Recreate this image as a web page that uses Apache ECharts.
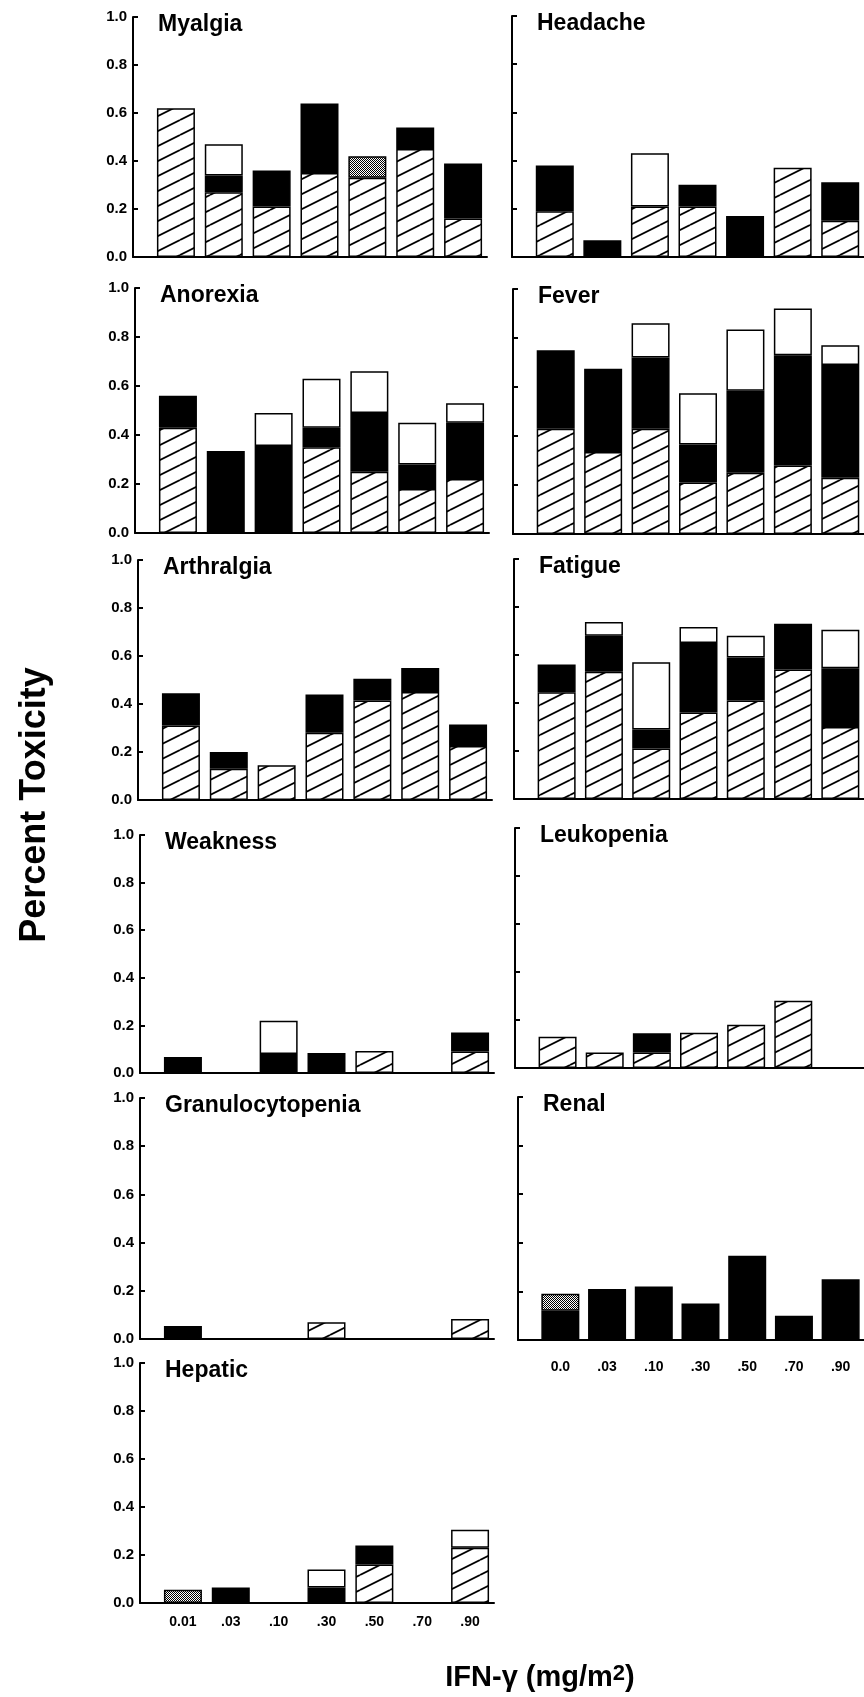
<!DOCTYPE html>
<html><head><meta charset="utf-8">
<script src="https://cdn.jsdelivr.net/npm/echarts@6/dist/echarts.min.js"></script>
<style>html,body{margin:0;padding:0;background:#fff}#c{width:864px;height:1697px}</style>
</head><body><div id="c"></div>
<script>
// ---- data (fraction of patients), each panel: [hatched, black, open, stippled] ----
const doses = ['0.0', '.03', '.10', '.30', '.50', '.70', '.90'];
const dosesHepatic = ['0.01', '.03', '.10', '.30', '.50', '.70', '.90'];
const grades = ['hatched', 'black', 'open', 'stippled'];

const myalgia = [
  [0.62, 0.27, 0.21, 0.35, 0.33, 0.45, 0.16],
  [0, 0.07, 0.15, 0.29, 0, 0.09, 0.23],
  [0, 0.13, 0, 0, 0, 0, 0],
  [0, 0, 0, 0, 0.09, 0, 0]
];
const headache = [
  [0.19, 0, 0.21, 0.21, 0, 0.37, 0.15],
  [0.19, 0.07, 0, 0.09, 0.17, 0, 0.16],
  [0, 0, 0.22, 0, 0, 0, 0],
  [0, 0, 0, 0, 0, 0, 0]
];
const anorexia = [
  [0.43, 0, 0, 0.35, 0.25, 0.18, 0.22],
  [0.13, 0.335, 0.355, 0.08, 0.24, 0.10, 0.23],
  [0, 0, 0.135, 0.20, 0.17, 0.17, 0.08],
  [0, 0, 0, 0, 0, 0, 0]
];
const fever = [
  [0.43, 0.335, 0.43, 0.21, 0.25, 0.28, 0.23],
  [0.32, 0.34, 0.29, 0.155, 0.335, 0.45, 0.46],
  [0, 0, 0.14, 0.21, 0.25, 0.19, 0.08],
  [0, 0, 0, 0, 0, 0, 0]
];
const arthralgia = [
  [0.31, 0.13, 0.145, 0.28, 0.415, 0.45, 0.225],
  [0.135, 0.07, 0, 0.16, 0.09, 0.10, 0.09],
  [0, 0, 0, 0, 0, 0, 0],
  [0, 0, 0, 0, 0, 0, 0]
];
const fatigue = [
  [0.445, 0.53, 0.21, 0.36, 0.41, 0.54, 0.30],
  [0.115, 0.15, 0.08, 0.29, 0.18, 0.19, 0.245],
  [0, 0.057, 0.28, 0.067, 0.09, 0, 0.16],
  [0, 0, 0, 0, 0, 0, 0]
];
const weakness = [
  [0, 0, 0, 0, 0.092, 0, 0.09],
  [0.067, 0, 0.08, 0.084, 0, 0, 0.08],
  [0, 0, 0.14, 0, 0, 0, 0],
  [0, 0, 0, 0, 0, 0, 0]
];
const leukopenia = [
  [0.13, 0.065, 0.065, 0.147, 0.18, 0.28, 0],
  [0, 0, 0.08, 0, 0, 0, 0],
  [0, 0, 0, 0, 0, 0, 0],
  [0, 0, 0, 0, 0, 0, 0]
];
const granulocytopenia = [
  [0, 0, 0, 0.07, 0, 0, 0.083],
  [0.054, 0, 0, 0, 0, 0, 0],
  [0, 0, 0, 0, 0, 0, 0],
  [0, 0, 0, 0, 0, 0, 0]
];
const renal = [
  [0, 0, 0, 0, 0, 0, 0],
  [0.12, 0.21, 0.22, 0.15, 0.347, 0.10, 0.25],
  [0, 0, 0, 0, 0, 0, 0],
  [0.07, 0, 0, 0, 0, 0, 0]
];
const hepatic = [
  [0, 0, 0, 0, 0.16, 0, 0.23],
  [0, 0.065, 0, 0.065, 0.08, 0, 0],
  [0, 0, 0, 0.075, 0, 0, 0.075],
  [0.055, 0, 0, 0, 0, 0, 0]
];

// ---- layout ----
const FONT = '"Liberation Sans", Arial, Helvetica, sans-serif';
const panels = [
  { name: 'Myalgia', data: myalgia, x: 133, top: 17, bottom: 257, right: false },
  { name: 'Anorexia', data: anorexia, x: 135, top: 288, bottom: 533, right: false },
  { name: 'Arthralgia', data: arthralgia, x: 138, top: 560, bottom: 800, right: false },
  { name: 'Weakness', data: weakness, x: 140, top: 835, bottom: 1073, right: false },
  { name: 'Granulocytopenia', data: granulocytopenia, x: 140, top: 1098, bottom: 1339, right: false },
  { name: 'Hepatic', data: hepatic, x: 140, top: 1363, bottom: 1603, right: false, labels: dosesHepatic, labelMargin: 12 },
  { name: 'Headache', data: headache, x: 512, top: 16, bottom: 257, right: true },
  { name: 'Fever', data: fever, x: 513, top: 289, bottom: 534, right: true },
  { name: 'Fatigue', data: fatigue, x: 514, top: 559, bottom: 799, right: true },
  { name: 'Leukopenia', data: leukopenia, x: 515, top: 828, bottom: 1068, right: true },
  { name: 'Renal', data: renal, x: 518, top: 1097, bottom: 1340, right: true, labels: doses, labelMargin: 20 }
];
const BAR_GRID_OFFSET = 19, BAR_GRID_W = 335, FRAME_W = 354;

function makePattern(kind) {
  const c = document.createElement('canvas');
  const g = c.getContext('2d');
  if (kind === 'hatch') {
    const w = 30, h = 15;
    c.width = w; c.height = h;
    g.fillStyle = '#fff'; g.fillRect(0, 0, w, h);
    g.strokeStyle = '#000'; g.lineWidth = 1.8;
    for (let n = 0; n <= 2; n++) {
      g.beginPath(); g.moveTo(0, n * h); g.lineTo(w, (n - 1) * h); g.stroke();
    }
  } else {
    c.width = 2; c.height = 2;
    g.fillStyle = '#fff'; g.fillRect(0, 0, 2, 2);
    g.fillStyle = '#000'; g.fillRect(0, 0, 1, 1); g.fillRect(1, 1, 1, 1);
  }
  return c;
}
const gradeStyle = {
  hatched: { color: { image: makePattern('hatch'), repeat: 'repeat' } },
  black: { color: '#000' },
  open: { color: '#fff' },
  stippled: { color: { image: makePattern('stipple'), repeat: 'repeat' } }
};

const grid = [], xAxis = [], yAxis = [], series = [], title = [];
const N = panels.length;
// frame grids (axes) 0..N-1
panels.forEach((p, i) => {
  const w = p.right ? 864 - p.x : FRAME_W;
  grid.push({ left: p.x, top: p.top, width: w, height: p.bottom - p.top });
  xAxis.push({
    gridIndex: i, type: 'value', min: 0, max: 1,
    axisLine: { show: true, onZero: false, lineStyle: { color: '#000', width: 2 } },
    axisTick: { show: false }, splitLine: { show: false }, axisLabel: { show: false }
  });
  yAxis.push({
    gridIndex: i, type: 'value', min: 0, max: 1, interval: 0.2,
    axisLine: { show: true, onZero: false, lineStyle: { color: '#000', width: 2 } },
    axisTick: { show: true, inside: true, length: 5, lineStyle: { color: '#000', width: 2 } },
    splitLine: { show: false },
    axisLabel: p.right ? { show: false } : {
      show: true, formatter: v => v.toFixed(1), color: '#000', fontWeight: 'bold',
      fontSize: 15, fontFamily: FONT, margin: 6
    }
  });
  title.push({
    text: p.name, left: p.x + 25, top: p.top - 4, padding: 0,
    textStyle: { fontSize: 23, fontWeight: 'bold', color: '#000', fontFamily: FONT }
  });
});
// bar grids N..2N-1
panels.forEach((p, i) => {
  const gi = N + i;
  grid.push({ left: p.x + BAR_GRID_OFFSET, top: p.top, width: BAR_GRID_W, height: p.bottom - p.top });
  xAxis.push({
    gridIndex: gi, type: 'category', data: p.labels || doses, boundaryGap: true,
    axisLine: { show: false }, axisTick: { show: false }, splitLine: { show: false },
    axisLabel: p.labels ? {
      show: true, interval: 0, color: '#000', fontWeight: 'bold', fontSize: 14,
      fontFamily: FONT, margin: p.labelMargin
    } : { show: false }
  });
  yAxis.push({ gridIndex: gi, type: 'value', min: 0, max: 1, show: false });
  grades.forEach((g, k) => {
    series.push({
      type: 'bar', name: p.name + ' ' + g, xAxisIndex: gi, yAxisIndex: gi,
      stack: 'panel' + i, barWidth: 38,
      itemStyle: Object.assign({ borderColor: '#000', borderWidth: 1.5 }, gradeStyle[g]),
      emphasis: { disabled: true },
      data: p.data[k].map(v => (v > 0 ? v : '-'))
    });
  });
});

const chart = echarts.init(document.getElementById('c'), null, { renderer: 'canvas' });
chart.setOption({
  animation: false,
  backgroundColor: '#fff',
  title, grid, xAxis, yAxis, series,
  graphic: [
    {
      type: 'text', x: 35, y: 805, rotation: Math.PI / 2,
      style: { text: 'Percent Toxicity', font: 'bold 36px ' + FONT, fill: '#000', textAlign: 'center', textVerticalAlign: 'middle' }
    },
    {
      type: 'text', x: 540, y: 1678,
      style: {
        text: '{a|IFN-γ (mg/m}{b|2}{a|)}', textAlign: 'center', textVerticalAlign: 'middle',
        rich: {
          a: { fontFamily: FONT, fontWeight: 'bold', fontSize: 29, fill: '#000' },
          b: { fontFamily: FONT, fontWeight: 'bold', fontSize: 22, fill: '#000', padding: [0, 0, 9, 0] }
        }
      }
    }
  ]
});
</script>
</body></html>
